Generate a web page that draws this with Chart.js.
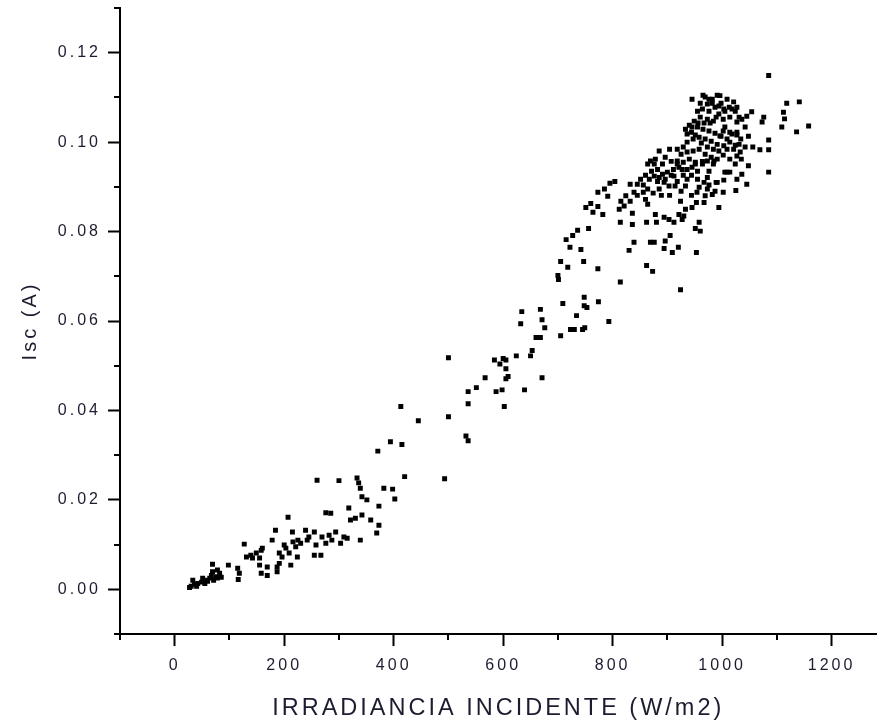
<!DOCTYPE html>
<html>
<head>
<meta charset="utf-8">
<script src="https://cdn.jsdelivr.net/npm/chart.js@4.4.1/dist/chart.umd.min.js"></script>
<style>
  body { margin: 0; background: #fff; }
  canvas { display: block; }
</style>
</head>
<body>
<canvas id="iscChart" width="880" height="723"></canvas>
<script>
// irradiance (W/m2) and short-circuit current (A), grouped by region
var irrLow = [30, 36, 42, 49, 51, 58, 64, 67, 69, 69, 76, 82, 85, 78, 33, 27, 40, 55, 60, 71, 78];
var iscLow = [.0007, .0011, .0013, .0016, .0025, .0020, .0025, .0031, .0039, .0056, .0028, .0036, .0027, .0043, .0020, .0004, .0007, .0013, .0018, .0020, .0025];

var irrLowMid = [98, 115, 118, 116, 127, 131, 139, 142, 149, 155, 158, 160, 155, 158, 169, 169, 178, 184, 187, 187,
  191, 191, 196, 200, 203, 207, 209, 212, 215, 216, 221, 224, 225, 230, 239, 242, 245, 255, 255, 258,
  260, 267, 269, 276, 276, 285, 282, 287, 294, 300, 303, 309, 315, 318, 321, 330, 333, 336, 339, 342,
  339, 342, 351, 358, 369, 373, 371, 373, 382, 394, 398, 402, 415, 420];
var iscLowMid = [.0054, .0047, .0036, .0022, .0101, .0072, .0076, .0070, .0081, .0070, .0087, .0092, .0054, .0036, .0050, .0031, .0110, .0132, .0050, .0039,
  .0058, .0081, .0072, .0099, .0092, .0161, .0081, .0054, .0128, .0106, .0095, .0072, .0110, .0103, .0132, .0110, .0117, .0128, .0076, .0099,
  .0244, .0076, .0117, .0103, .0171, .0170, .0121, .0110, .0128, .0243, .0103, .0117, .0114, .0182, .0155, .0159, .0249, .0238, .0226, .0166,
  .0110, .0207, .0200, .0155, .0126, .0143, .0309, .0186, .0226, .0330, .0224, .0202, .0324, .0252];

var irrMid = [701, 814, 924, 748, 774, 709, 748, 753, 634, 668, 734, 671, 793, 632, 676, 723, 730, 745, 749, 705,
  660, 668, 653, 650, 624, 500, 584, 600, 605, 594, 605, 567, 609, 605, 671, 551, 536, 587, 598, 639,
  536, 602, 413, 500, 445, 532, 536, 493];
var iscMid = [.0693, .0687, .0670, .0653, .0643, .0639, .0634, .0630, .0621, .0626, .0612, .0603, .0599, .0594, .0585, .0581, .0581, .0581, .0585, .0567,
  .0563, .0563, .0534, .0522, .0522, .0518, .0513, .0516, .0513, .0504, .0493, .0473, .0476, .0471, .0473, .0451, .0442, .0442, .0446, .0446,
  .0415, .0409, .0409, .0386, .0377, .0343, .0332, .0247];

var irrUpper = [1085, 1048, 1045, 1025, 1014, 1005, 1003, 989, 1002, 994, 982, 973, 967, 969, 967, 954, 953, 945, 933, 930,
  924, 921, 927, 912, 903, 894, 878, 880, 862, 836, 836, 814, 958, 951, 960, 905, 896, 869, 876, 839,
  830, 894, 920, 909, 953, 862, 873,
  824, 815, 812, 821, 832, 839, 832, 845, 856, 860, 864, 864, 867, 876, 885, 885, 894, 900, 903, 914,
  912, 921, 918, 927, 936, 933, 945, 951, 964, 973, 985, 869, 876,
  795, 804, 785, 773, 791, 760, 751, 773, 764, 782, 756, 736, 727, 715, 722, 742, 705, 718, 747, 773, 700];
var iscUpper = [.0933, .0947, .0906, .0892, .0933, .0933, .0915, .0910, .0888, .0854, .0883, .0895, .0910, .0880, .0865, .0888, .0865, .0854, .0850, .0835,
  .0868, .0838, .0827, .0821, .0827, .0832, .0838, .0821, .0821, .0816, .0841, .0821, .0821, .0807, .0801, .0791, .0779, .0776, .0776, .0776,
  .0758, .0762, .0765, .0753, .0753, .0724, .0711,
  .0880, .0868, .0850, .0857, .0868, .0888, .0906, .0906, .0888, .0872, .0861, .0895, .0917, .0924, .0921, .0895, .0910, .0933, .0902, .0902,
  .0924, .0944, .0958, .0939, .0917, .0902, .0944, .0955, .0951, .0958, .0958, .0958, .0951,
  .0908, .0912, .0895, .0888, .0879, .0863, .0854, .0856, .0843, .0838, .0807, .0803, .0791, .0782, .0765, .0760, .0733, .0720, .0733, .0717, .0702];

var irrTop = [1085, 1118, 1141, 1112, 1114, 1109, 1136, 1158, 1076, 1073, 1054, 1045, 1027, 1048, 1085, 1085, 1069, 1056, 1027, 1018,
  996, 1009, 1021, 1027, 1003, 994, 996, 1003, 1014, 1021, 1027, 1014, 1033, 1009, 991,
  991, 982, 973, 964, 955, 976, 987, 994, 1005, 1014, 1036, 1042, 1005, 984, 973, 960, 949, 940, 933, 944,
  955, 965, 976, 987, 998, 1009, 1031, 1042, 1035, 1024, 991, 980, 969, 958, 947, 936, 929, 918, 925, 936,
  947, 958, 969, 980, 991, 1002, 984, 964, 951, 940, 929, 918, 907, 896, 904, 891, 882, 911, 936, 955,
  976, 1036, 1027, 973, 955, 958, 976, 987, 878, 864, 885, 965, 976, 891, 851];
var iscTop = [.1149, .1087, .1090, .1067, .1052, .1034, .1023, .1036, .1056, .1045, .1068, .1058, .1045, .1013, .1005, .0983, .0983, .0989, .1022, .1018,
  .1104, .1096, .1090, .1078, .1074, .1081, .1014, .0992, .1000, .0984, .0969, .0962, .0978, .0933, .0910,
  .1105, .1096, .1085, .1074, .1069, .1069, .1078, .1063, .1069, .1056, .1051, .1034, .1034, .1047, .1051, .1056, .1047, .1038, .1029, .1022,
  .1034, .1029, .1025, .1020, .1013, .1007, .0995, .0989, .0962, .0951, .0995, .1002, .1007, .1011, .1007, .1000, .0989, .0984, .0973, .0978,
  .0980, .0984, .0973, .0966, .0962, .0971, .0951, .0957, .0951, .0962, .0955, .0951, .0957, .0966, .0984, .0951, .0939, .0939, .0939, .0935,
  .0935, .0928, .0917, .0921, .0917, .0899, .0904, .0890, .0962, .0951, .0980, .1105, .1096, .0928, .0917];

// the dark mass of points near 900-1040 W/m2
var irrDense = [945, 960, 969, 982, 998, 1013, 1024, 1031, 1018, 1002, 989, 978, 967, 956, 945, 936, 951, 962, 973, 984,
  994, 1009, 1024, 1034, 1027, 1014, 1002, 871, 860, 882, 896, 907, 918, 929, 944, 856, 874, 889, 904, 845,
  925, 944];
var iscDense = [.1096, .1087, .1101, .1087, .1087, .1078, .1069, .1056, .1074, .1051, .1056, .1043, .1043, .1043, .1034, .1018, .1016, .0998, .0989, .0984,
  .0980, .0984, .0993, .1007, .1016, .1022, .1025, .0935, .0926, .0912, .0917, .0926, .0912, .0926, .0926, .0904, .0886, .0881, .0881, .0881,
  .0890, .0881];

var irradiance = irrLow.concat(irrLowMid, irrMid, irrUpper, irrTop, irrDense);
var isc = iscLow.concat(iscLowMid, iscMid, iscUpper, iscTop, iscDense);

var points = irradiance.map(function (v, i) { return { x: v, y: isc[i] }; });

var textColor = "#1c1c30";
var fontFamily = "'Liberation Sans', Arial, sans-serif";

function isMajorX(v) { return v % 200 === 0; }
function isMajorY(v) { return Math.round(v * 100) % 2 === 0; }

//short minor ticks + wider letter spacing like the original plot
var minorTicks = {
  id: "minorTicks",
  beforeDraw: function (chart) {
    chart.ctx.letterSpacing = "3px";
  },
  afterDraw: function (chart) {
    var ctx = chart.ctx;
    var xs = chart.scales.x, ys = chart.scales.y;
    ctx.save();
    ctx.strokeStyle = "#000";
    ctx.lineWidth = 2;
    ctx.beginPath();
    xs.ticks.forEach(function (t) {
      if (isMajorX(t.value)) return;
      var px = Math.round(xs.getPixelForValue(t.value));
      ctx.moveTo(px, xs.top);
      ctx.lineTo(px, xs.top + 6);
    });
    ys.ticks.forEach(function (t) {
      if (isMajorY(t.value)) return;
      var py = Math.round(ys.getPixelForValue(t.value));
      ctx.moveTo(ys.right, py);
      ctx.lineTo(ys.right - 6, py);
    });
    ctx.stroke();
    ctx.restore();
  }
};

var ctx = document.getElementById("iscChart");
var myChart = new Chart(ctx, {
  type: "scatter",
  data: {
    datasets: [
      {
        label: "Isc",
        data: points,
        pointStyle: "rect",
        pointRadius: 3.5,
        pointHoverRadius: 3.5,
        backgroundColor: "#000",
        borderWidth: 0,
      },
    ],
  },
  options: {
    responsive: false,
    animation: false,
    devicePixelRatio: 1,
    layout: { padding: { top: 8, right: 0, bottom: 0, left: 0 } },
    plugins: {
      legend: { display: false },
      tooltip: { enabled: false },
    },
    scales: {
      x: {
        type: "linear",
        min: -100,
        max: 1282,
        afterFit: function (s) { s.height = 89; s.paddingLeft = 0; s.paddingRight = 0; },
        border: { display: true, color: "#000", width: 2 },
        grid: {
          drawOnChartArea: false,
          drawTicks: true,
          tickLength: 12,
          tickWidth: 2,
          tickColor: function (c) { return isMajorX(c.tick.value) ? "#000" : "rgba(0,0,0,0)"; },
        },
        ticks: {
          stepSize: 100,
          includeBounds: false,
          autoSkip: false,
          maxRotation: 0,
          padding: 10,
          color: textColor,
          font: { family: fontFamily, size: 16 },
          callback: function (v) { return isMajorX(v) && v >= 0 ? String(v) : ""; },
        },
        title: {
          display: true,
          text: "IRRADIANCIA INCIDENTE (W/m2)",
          color: textColor,
          font: { family: fontFamily, size: 23.5 },
          padding: { top: 0, bottom: 0 },
        },
      },
      y: {
        type: "linear",
        min: -0.01,
        max: 0.13,
        afterFit: function (s) { s.width = 120; s.paddingTop = 0; s.paddingBottom = 0; },
        border: { display: true, color: "#000", width: 2 },
        grid: {
          drawOnChartArea: false,
          drawTicks: true,
          tickLength: 12,
          tickWidth: 2,
          tickColor: function (c) { return isMajorY(c.tick.value) ? "#000" : "rgba(0,0,0,0)"; },
        },
        ticks: {
          stepSize: 0.01,
          autoSkip: false,
          padding: 7,
          color: textColor,
          font: { family: fontFamily, size: 16 },
          callback: function (v) { return isMajorY(v) ? v.toFixed(2) : ""; },
        },
        title: {
          display: true,
          text: "Isc (A)",
          color: textColor,
          font: { family: fontFamily, size: 20 },
          padding: { top: 18, bottom: 0 },
        },
      },
    },
  },
  plugins: [minorTicks],
});
</script>
</body>
</html>
